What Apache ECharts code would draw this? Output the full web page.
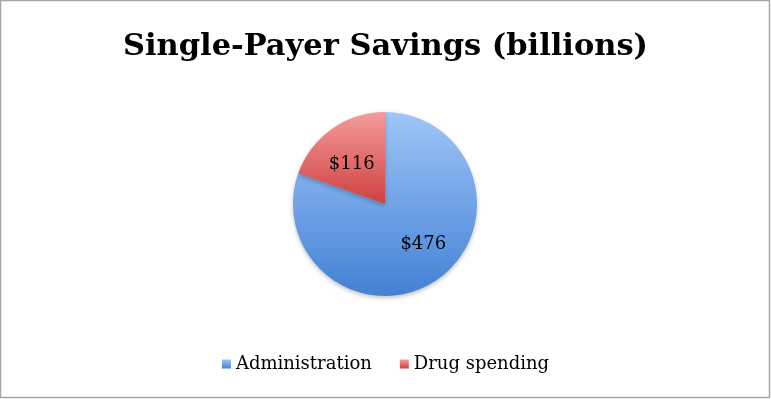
<!DOCTYPE html>
<html>
<head>
<meta charset="utf-8">
<script src="https://cdn.jsdelivr.net/npm/echarts@6/dist/echarts.min.js"></script>
<style>
html, body { margin: 0; padding: 0; background: #fff; }
#chartDiv { width: 771px; height: 399px; }
</style>
</head>
<body>
<div id="chartDiv"></div>
<script>
var categories = ["Administration", "Drug spending"];
var values = [476, 116];
var topColors = ["#9fc5f8", "#f59c9c"];
var bottomColors = ["#4381d4", "#cf4040"];

var serif = "'DejaVu Serif', 'Liberation Serif', serif";

function gradient(i) {
	return new echarts.graphic.LinearGradient(0, 0, 0, 1, [
		{ offset : 0, color : topColors[i] },
		{ offset : 1, color : bottomColors[i] }
	]);
}

var pieData = [];
for (var i = 0; i < categories.length; i++) {
	pieData.push({
		name : categories[i],
		value : values[i],
		itemStyle : { color : gradient(i) }
	});
}

var chart = echarts.init(document.getElementById('chartDiv'));

chart.setOption({
	animation : false,
	graphic : [{
		type : 'rect',
		shape : { x : 0.5, y : 0.5, width : 769, height : 397 },
		style : { fill : 'none', stroke : '#a6a6a6', lineWidth : 1.5 },
		silent : true
	}],
	title : {
		text : "Single-Payer Savings (billions)",
		left : 'center',
		top : 27,
		textStyle : {
			fontFamily : serif,
			fontWeight : 'bold',
			fontSize : 30.5,
			color : '#000'
		}
	},
	legend : {
		data : categories,
		bottom : 21,
		left : 'center',
		itemWidth : 9,
		itemHeight : 9,
		itemGap : 28,
		icon : 'rect',
		textStyle : {
			fontFamily : serif,
			fontSize : 18,
			color : '#000'
		}
	},
	series : [{
		type : 'pie',
		center : [385, 204],
		radius : [0, 92],
		startAngle : 90,
		clockwise : true,
		data : pieData,
		itemStyle : {
			shadowBlur : 4,
			shadowColor : 'rgba(0,0,0,0.25)',
			shadowOffsetY : 2
		},
		label : {
			show : true,
			position : 'inside',
			formatter : function(p) { return '$' + p.value; },
			fontFamily : serif,
			fontSize : 18,
			color : '#000'
		},
		// Excel puts the labels a little further out than the mid radius
		labelLayout : function(params) {
			return params.dataIndex === 0 ? { dx : 10 } : { dx : -5 };
		},
		labelLine : { show : false },
		emphasis : { disabled : true }
	}]
});
</script>
</body>
</html>
